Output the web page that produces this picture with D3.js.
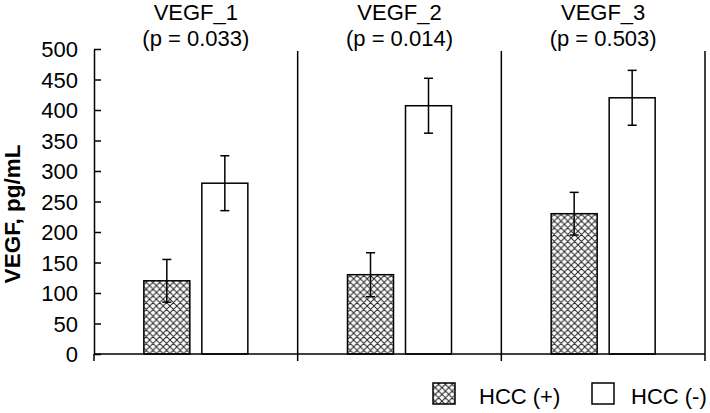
<!DOCTYPE html>
<html>
<head>
<meta charset="utf-8">
<script src="https://cdn.jsdelivr.net/npm/d3@7"></script>
<style>
  html, body { margin: 0; padding: 0; background: #fff; }
  svg { display: block; }
  text { font-family: "Liberation Sans", Arial, sans-serif; fill: #000; }
</style>
</head>
<body>
<svg id="chart" width="710" height="413"></svg>
<script>
const categories = ["VEGF_1", "VEGF_2", "VEGF_3"];
const pValues = ["0.033", "0.014", "0.503"];
const seriesNames = ["HCC (+)", "HCC (-)"];
const hccPos = [120, 130, 230];
const hccNeg = [280, 407, 420];
const hccPosErr = [35, 36, 35];
const hccNegErr = [45, 45, 45];
const yTicks = [0, 50, 100, 150, 200, 250, 300, 350, 400, 450, 500];

(function () {
const svg = d3.select("#chart");
const mLeft = 94, mRight = 705, mTop = 49, mBottom = 354;
const fs = 22;

const x0 = d3.scaleBand().domain(categories).range([mLeft, mRight]).padding(0);
const y = d3.scaleLinear().domain([0, 500]).range([mBottom, mTop]);

// pattern
const defs = svg.append("defs");
const pat = defs.append("pattern").attr("id", "xhatch")
  .attr("patternUnits", "userSpaceOnUse").attr("width", 6.8).attr("height", 6.8);
pat.append("rect").attr("width", 6.8).attr("height", 6.8).attr("fill", "#fff");
pat.append("path").attr("d", "M0,0L6.8,6.8M6.8,0L0,6.8M-1,5.8L1,7.8M5.8,-1L7.8,1")
  .attr("stroke", "#222").attr("stroke-width", 1);

const fills = ["url(#xhatch)", "#fff"];
const values = [hccPos, hccNeg];
const errs = [hccPosErr, hccNegErr];

const data = [];
categories.forEach((c, i) => {
  seriesNames.forEach((s, j) => {
    data.push({ cat: c, series: s, j, v: values[j][i], e: errs[j][i] });
  });
});

// separators (vertical gridlines at category boundaries)
const boundaries = categories.map(c => x0(c)).concat([x0.range()[1]]);
svg.append("g").selectAll("line").data(boundaries.slice(1)).join("line")
  .attr("x1", d => d).attr("x2", d => d)
  .attr("y1", mTop + 2).attr("y2", mBottom)
  .attr("stroke", "#000").attr("stroke-width", 1.5);

// bars
const barG = svg.append("g");
data.forEach(d => {
  const c = x0(d.cat) + x0.bandwidth() / 2;
  const x1 = d3.scaleBand().domain(seriesNames).range([c - 52, c + 52]).paddingInner(12 / 58).paddingOuter(0);
  d.bx = x1(d.series);
  d.bw = x1.bandwidth();
});
barG.selectAll("rect").data(data).join("rect")
  .attr("x", d => d.bx).attr("width", d => d.bw)
  .attr("y", d => y(d.v)).attr("height", d => y(0) - y(d.v))
  .attr("fill", d => fills[d.j]).attr("stroke", "#000").attr("stroke-width", 1.5);

// error bars
const errG = svg.append("g").attr("stroke", "#000").attr("stroke-width", 1.5);
data.forEach(d => {
  const cx = d.bx + d.bw / 2;
  errG.append("line").attr("x1", cx).attr("x2", cx).attr("y1", y(d.v + d.e)).attr("y2", y(d.v - d.e));
  errG.append("line").attr("x1", cx - 4.5).attr("x2", cx + 4.5).attr("y1", y(d.v + d.e)).attr("y2", y(d.v + d.e));
  errG.append("line").attr("x1", cx - 4.5).attr("x2", cx + 4.5).attr("y1", y(d.v - d.e)).attr("y2", y(d.v - d.e));
});

// y axis
const yAxis = d3.axisLeft(y).tickValues(yTicks).tickSizeInner(-7).tickSizeOuter(0).tickPadding(16);
const yg = svg.append("g").attr("transform", `translate(${mLeft},0)`).call(yAxis);
yg.select(".domain").attr("stroke-width", 1.5);
yg.selectAll(".tick line").attr("stroke-width", 1.5);
yg.selectAll(".tick text").attr("font-size", fs).attr("font-family", "Liberation Sans, Arial, sans-serif").attr("dy", "0.36em");

// x axis
svg.append("line").attr("x1", mLeft).attr("x2", mRight).attr("y1", mBottom).attr("y2", mBottom)
  .attr("stroke", "#000").attr("stroke-width", 1.5);
svg.append("g").selectAll("line").data(boundaries).join("line")
  .attr("x1", d => d).attr("x2", d => d).attr("y1", mBottom).attr("y2", mBottom + 7)
  .attr("stroke", "#000").attr("stroke-width", 1.5);

// titles
const tg = svg.append("g");
categories.forEach((c, i) => {
  const cx = x0(c) + x0.bandwidth() / 2;
  tg.append("text").attr("x", cx).attr("y", 20).attr("text-anchor", "middle").attr("font-size", fs).text(c);
  tg.append("text").attr("x", cx).attr("y", 46).attr("text-anchor", "middle").attr("font-size", fs).text(`(p = ${pValues[i]})`);
});

// y label
svg.append("text").attr("transform", "translate(20,214) rotate(-90)")
  .attr("text-anchor", "middle").attr("font-size", 22.5).attr("font-weight", "bold")
  .text("VEGF, pg/mL");

// legend
const lg = svg.append("g");
const legBoxX = [433, 592];
const legTextX = [479, 631];
seriesNames.forEach((s, j) => {
  lg.append("rect").attr("x", legBoxX[j]).attr("y", 383).attr("width", 22).attr("height", 21)
    .attr("fill", fills[j]).attr("stroke", "#000").attr("stroke-width", 1.5);
  lg.append("text").attr("x", legTextX[j]).attr("y", 403.5).attr("font-size", fs).text(s);
});
})();
</script>
</body>
</html>
